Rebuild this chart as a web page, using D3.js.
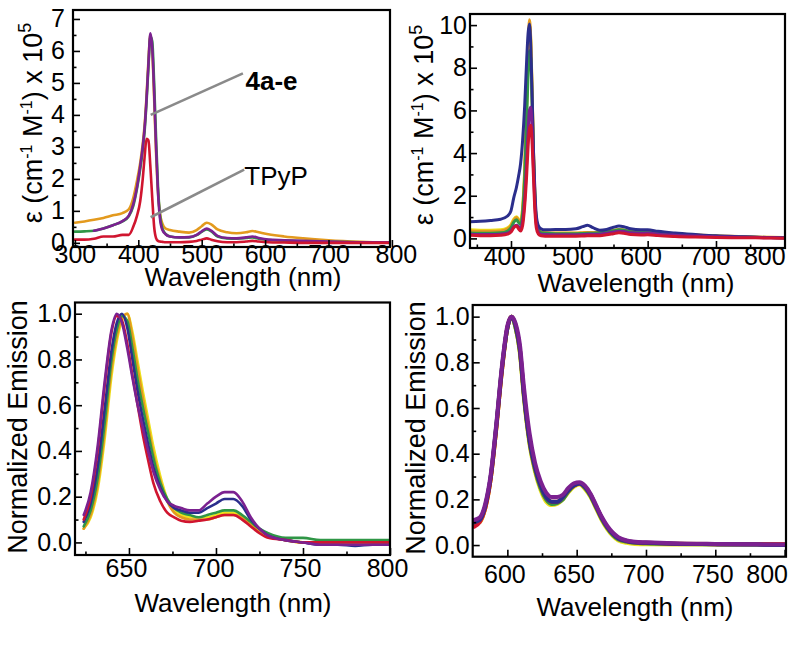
<!DOCTYPE html>
<html><head><meta charset="utf-8">
<script src="https://cdn.jsdelivr.net/npm/d3@7"></script>
<style>body{margin:0;background:#fff} svg{display:block} text{font-family:"Liberation Sans",Arial,sans-serif}</style>
</head><body><svg id="c" width="792" height="652"></svg>
<script>
// ---------- colours of the compounds ----------
const COLORS = {orange:"#E39A1E", yellow:"#EDE21C", green:"#2F9646", blue:"#2B2E8C", purple:"#7B2190", red:"#D0152F"};

// ---------- Panel A: absorption, 4a-e and TPyP ----------
const A_WL = [300,315,330,345,360,375,385,392,398,403,407,410,413,416,419,422,425,428,431,434,438,443,450,465,480,492,500,508,515,525,540,555,570,580,590,605,630,660,700,750,800];
const A_ORANGE = [0.63,0.67,0.72,0.78,0.86,0.93,1.05,1.4,1.95,2.5,3.1,3.7,4.6,5.7,6.5,6.0,4.5,2.8,1.6,0.95,0.6,0.45,0.4,0.35,0.32,0.4,0.52,0.63,0.58,0.42,0.33,0.3,0.33,0.37,0.33,0.27,0.2,0.14,0.08,0.03,0.0];
const A_GREEN = [0.35,0.36,0.38,0.45,0.55,0.67,0.83,1.15,1.7,2.3,2.9,3.5,4.4,5.5,6.45,6.3,5.0,3.3,1.8,0.9,0.45,0.28,0.2,0.17,0.17,0.24,0.34,0.42,0.36,0.2,0.14,0.13,0.15,0.17,0.13,0.09,0.07,0.05,0.03,0.02,0.01];
const A_PURPLE = [null,null,0.38,0.45,0.55,0.68,0.85,1.2,1.75,2.4,3.0,3.6,4.5,5.6,6.55,6.1,4.7,3.0,1.6,0.8,0.4,0.27,0.2,0.17,0.18,0.25,0.36,0.45,0.38,0.22,0.15,0.14,0.17,0.2,0.15,0.1,0.08,0.06,0.04,0.02,0.02];
const A_RED = [0.1,0.1,0.13,0.2,0.2,0.25,0.25,0.5,0.85,1.3,2.0,2.7,3.25,3.2,2.4,1.4,0.5,0.15,0.06,0.04,0.03,0.02,0.02,0.02,0.03,0.06,0.1,0.14,0.1,0.05,0.02,0.02,0.04,0.06,0.04,0.02,0.01,0.0,0.0,0.0,0.0];
const A_XTICKS = [300,400,500,600,700,800];
const A_XMINOR = [350,450,550,650,750];
const A_YTICKS = [0,1,2,3,4,5,6,7];
const A_YMINOR = [0.5,1.5,2.5,3.5,4.5,5.5,6.5];
const A_NOTES = ["4a-e","TPyP"];

// ---------- Panel B: absorption, second set ----------
const B_WL = [340,355,370,385,395,400,404,408,411,414,417,420,423,425,427,429,431,433,435,437,440,444,450,465,480,495,505,512,520,530,540,550,558,565,575,590,600,615,640,670,700,740,780,801];
const B_BLUE = [0.78,0.8,0.84,0.9,1.05,1.3,1.9,2.4,2.9,3.5,4.6,6.2,8.4,9.6,10.05,9.0,6.6,4.0,2.2,1.1,0.6,0.45,0.4,0.42,0.42,0.45,0.55,0.62,0.5,0.38,0.42,0.52,0.58,0.55,0.45,0.4,0.4,0.33,0.25,0.18,0.12,0.08,0.04,0.03];
const B_ORANGE = [0.35,0.33,0.33,0.35,0.45,0.6,0.85,0.98,0.85,0.75,1.4,3.2,6.5,8.8,10.25,9.3,6.8,4.0,2.0,0.9,0.45,0.3,0.28,0.25,0.25,0.25,0.27,0.28,0.28,0.28,0.32,0.38,0.42,0.4,0.33,0.32,0.33,0.28,0.22,0.17,0.12,0.08,0.05,0.04];
const B_YELLOW = [0.4,0.38,0.38,0.4,0.5,0.65,0.9,1.02,0.9,0.8,1.4,3.1,6.3,8.6,10.0,9.2,6.7,3.9,1.9,0.85,0.45,0.3,0.27,0.24,0.24,0.24,0.25,0.26,0.26,0.27,0.3,0.36,0.4,0.38,0.31,0.3,0.31,0.26,0.2,0.15,0.1,0.07,0.04,0.03];
const B_GREEN = [0.25,0.24,0.24,0.26,0.35,0.5,0.75,0.88,0.75,0.65,1.2,2.8,5.7,7.7,8.8,8.4,6.2,3.7,1.9,0.8,0.4,0.27,0.24,0.22,0.22,0.22,0.23,0.24,0.24,0.26,0.3,0.36,0.4,0.38,0.31,0.3,0.3,0.25,0.19,0.14,0.1,0.06,0.04,0.03];
const B_PURPLE = [0.2,0.18,0.18,0.2,0.25,0.35,0.55,0.62,0.55,0.45,0.8,1.8,3.6,5.0,6.0,6.15,5.0,3.2,1.6,0.7,0.3,0.2,0.18,0.17,0.17,0.17,0.18,0.19,0.19,0.2,0.24,0.3,0.34,0.32,0.26,0.24,0.25,0.2,0.15,0.11,0.08,0.05,0.03,0.02];
const B_RED = [0.15,0.13,0.13,0.15,0.2,0.3,0.5,0.58,0.45,0.35,0.6,1.5,3.0,4.3,5.1,5.3,4.4,2.8,1.3,0.5,0.2,0.12,0.1,0.1,0.1,0.1,0.11,0.12,0.12,0.13,0.17,0.22,0.26,0.24,0.18,0.16,0.17,0.13,0.09,0.06,0.04,0.03,0.02,0.01];
const B_XTICKS = [400,500,600,700,800];
const B_XMINOR = [350,450,550,650,750];
const B_YTICKS = [0,2,4,6,8,10];
const B_YMINOR = [1,3,5,7,9];

// ---------- Panel C: normalized emission, first set ----------
const C_WL = [624,628,632,636,640,643,646,649,652,655,658,661,664,668,672,676,680,685,690,695,700,705,710,715,720,725,730,740,750,760,770,780,790,800];
const C_PURPLE = [0.12,0.22,0.42,0.7,0.93,1.0,0.96,0.85,0.72,0.6,0.5,0.4,0.31,0.23,0.18,0.16,0.15,0.14,0.14,0.17,0.2,0.22,0.22,0.18,0.11,0.06,0.03,0.01,0.0,-0.01,-0.01,-0.01,-0.01,-0.01];
const C_RED = [0.1,0.2,0.4,0.68,0.92,0.99,0.97,0.87,0.73,0.6,0.47,0.36,0.26,0.18,0.13,0.11,0.095,0.09,0.095,0.1,0.11,0.12,0.12,0.1,0.07,0.04,0.02,0.01,0.0,0.0,0.0,0.0,0.0,0.0];
const C_BLUE = [0.09,0.17,0.33,0.58,0.84,0.96,1.0,0.94,0.8,0.66,0.54,0.43,0.33,0.24,0.18,0.15,0.14,0.13,0.13,0.15,0.17,0.19,0.19,0.16,0.1,0.06,0.03,0.01,0.0,-0.01,-0.01,-0.015,-0.01,-0.01];
const C_GREEN = [0.07,0.14,0.28,0.52,0.8,0.93,0.99,0.97,0.85,0.71,0.59,0.48,0.37,0.26,0.19,0.15,0.13,0.12,0.11,0.12,0.13,0.14,0.14,0.12,0.09,0.06,0.04,0.02,0.02,0.01,0.01,0.01,0.01,0.01];
const C_ORANGE = [0.06,0.12,0.25,0.48,0.76,0.9,0.98,1.0,0.9,0.76,0.63,0.51,0.39,0.27,0.18,0.13,0.11,0.1,0.1,0.1,0.11,0.12,0.12,0.11,0.08,0.05,0.03,0.01,0.0,0.0,0.0,0.0,0.0,0.0];
const C_YELLOW = [0.06,0.11,0.23,0.45,0.73,0.88,0.97,1.0,0.92,0.79,0.66,0.54,0.42,0.29,0.19,0.14,0.12,0.11,0.11,0.11,0.12,0.13,0.13,0.11,0.08,0.05,0.03,0.01,0.0,0.0,0.0,0.0,0.0,0.0];
const C_XTICKS = [650,700,750,800];
const C_XMINOR = [625,675,725,775];
const C_YTICKS = [0,0.2,0.4,0.6,0.8,1.0];
const C_YMINOR = [0.1,0.3,0.5,0.7,0.9];

// ---------- Panel D: normalized emission, second set ----------
const D_WL = [576,580,584,588,592,596,600,603,606,609,612,616,620,624,628,632,636,640,644,648,652,656,660,664,668,672,676,680,686,692,700,720,750,780,801];
const D_YELLOW = [0.09,0.1,0.16,0.29,0.51,0.76,0.95,1.0,0.95,0.84,0.64,0.44,0.32,0.24,0.19,0.175,0.18,0.2,0.23,0.255,0.265,0.245,0.21,0.16,0.11,0.07,0.04,0.02,0.01,0.005,0.003,0.002,0.002,0.002,0.002];
const D_ORANGE = [0.09,0.1,0.16,0.29,0.51,0.76,0.95,1.0,0.95,0.85,0.65,0.45,0.33,0.25,0.2,0.18,0.185,0.2,0.235,0.26,0.27,0.25,0.215,0.165,0.115,0.075,0.045,0.025,0.015,0.01,0.008,0.006,0.005,0.005,0.005];
const D_GREEN = [0.09,0.11,0.17,0.3,0.52,0.77,0.95,1.0,0.95,0.85,0.65,0.45,0.33,0.25,0.2,0.18,0.185,0.2,0.235,0.26,0.27,0.25,0.215,0.165,0.115,0.075,0.045,0.025,0.015,0.01,0.008,0.005,0.003,0.002,0.0];
const D_RED = [0.08,0.1,0.16,0.29,0.51,0.76,0.95,1.0,0.96,0.86,0.66,0.46,0.34,0.26,0.21,0.19,0.19,0.21,0.24,0.26,0.27,0.255,0.22,0.17,0.12,0.08,0.05,0.03,0.018,0.012,0.01,0.006,0.004,0.003,0.003];
const D_BLUE = [0.1,0.11,0.17,0.3,0.52,0.77,0.95,1.0,0.96,0.86,0.66,0.46,0.34,0.26,0.21,0.19,0.19,0.21,0.24,0.26,0.27,0.255,0.22,0.17,0.12,0.08,0.05,0.03,0.018,0.012,0.01,0.006,0.004,0.002,0.0];
const D_PURPLE = [0.11,0.12,0.18,0.31,0.53,0.78,0.96,1.0,0.97,0.88,0.69,0.49,0.36,0.28,0.23,0.21,0.21,0.22,0.25,0.27,0.275,0.26,0.225,0.175,0.125,0.085,0.055,0.035,0.02,0.014,0.012,0.008,0.005,0.003,0.002];
const D_XTICKS = [600,650,700,750,800];
const D_XMINOR = [625,675,725,775];
const D_YTICKS = [0,0.2,0.4,0.6,0.8,1.0];
const D_YMINOR = [0.1,0.3,0.5,0.7,0.9];

const X_TITLE = "Wavelength (nm)";
const Y_TITLE_EMI = "Normalized Emission";

// ---------- layout ----------
const panels = [
  {wl:A_WL, series:[["orange",A_ORANGE],["green",A_GREEN],["purple",A_PURPLE],["red",A_RED]],
   xd:[297,797], yd:[-0.13,7.28], left:73, right:390, top:10, bottom:247, lw:2.6,
   xt:A_XTICKS, xm:A_XMINOR, yt:A_YTICKS, ym:A_YMINOR, yfmt:d3.format("d"),
   xPad:-1.5, xDx:0, xLastDx:4, yPad:8, xTitle:[243,286], yTitle:[42,123], yKind:"eps"},
  {wl:B_WL, series:[["yellow",B_YELLOW],["orange",B_ORANGE],["green",B_GREEN],["blue",B_BLUE],["purple",B_PURPLE],["red",B_RED]],
   xd:[340,801], yd:[-0.45,10.52], left:470, right:785, top:14, bottom:248, lw:3,
   xt:B_XTICKS, xm:B_XMINOR, yt:B_YTICKS, ym:B_YMINOR, yfmt:d3.format("d"),
   xPad:-0.5, xDx:-7, xLastDx:-20, yPad:3, xTitle:[636,292], yTitle:[433,125], yKind:"eps"},
  {wl:C_WL, series:[["yellow",C_YELLOW],["orange",C_ORANGE],["green",C_GREEN],["blue",C_BLUE],["red",C_RED],["purple",C_PURPLE]],
   xd:[619,800], yd:[-0.055,1.049], left:75, right:390, top:302.5, bottom:555, lw:2.6,
   xt:C_XTICKS, xm:C_XMINOR, yt:C_YTICKS, ym:C_YMINOR, yfmt:d3.format(".1f"),
   xPad:4, xDx:-3, xLastDx:-3, yPad:3, xTitle:[233,612], yTitle:[27,427], yKind:"emi"},
  {wl:D_WL, series:[["yellow",D_YELLOW],["orange",D_ORANGE],["green",D_GREEN],["red",D_RED],["blue",D_BLUE],["purple",D_PURPLE]],
   xd:[575,801], yd:[-0.051,1.051], left:472.7, right:786, top:305, bottom:556.7, lw:4,
   xt:D_XTICKS, xm:D_XMINOR, yt:D_YTICKS, ym:D_YMINOR, yfmt:d3.format(".1f"),
   xPad:8.5, xDx:-3, xLastDx:-18, yPad:3, xTitle:[635,616], yTitle:[425,428], yKind:"emi"}
];

const TICK_FONT = 25;
const svg = d3.select("#c");
svg.append("rect").attr("width",792).attr("height",652).attr("fill","#fff");
const defs = svg.append("defs");

panels.forEach((p,i) => {
  const x = d3.scaleLinear().domain(p.xd).range([p.left,p.right]);
  const y = d3.scaleLinear().domain(p.yd).range([p.bottom,p.top]);
  defs.append("clipPath").attr("id","clip"+i).append("rect")
    .attr("x",p.left).attr("y",p.top).attr("width",p.right-p.left).attr("height",p.bottom-p.top);
  const g = svg.append("g");
  const lg = g.append("g").attr("clip-path",`url(#clip${i})`);
  const line = d3.line().defined(d=>d[1]!=null).x(d=>x(d[0])).y(d=>y(d[1])).curve(d3.curveMonotoneX);
  p.series.forEach(([c,vals]) => {
    lg.append("path").attr("d", line(p.wl.map((w,k)=>[w,vals[k]])))
      .attr("fill","none").attr("stroke",COLORS[c]).attr("stroke-width",p.lw)
      .attr("stroke-linejoin","round").attr("stroke-linecap","round");
  });

  // minor ticks
  const gxm = g.append("g").attr("transform",`translate(0,${p.bottom})`)
    .call(d3.axisBottom(x).tickValues(p.xm).tickSizeInner(-3.5).tickSizeOuter(0).tickFormat(""));
  const gym = g.append("g").attr("transform",`translate(${p.left},0)`)
    .call(d3.axisLeft(y).tickValues(p.ym).tickSizeInner(-3.5).tickSizeOuter(0).tickFormat(""));
  // major ticks
  const gx = g.append("g").attr("transform",`translate(0,${p.bottom})`)
    .call(d3.axisBottom(x).tickValues(p.xt).tickSizeInner(-7).tickSizeOuter(0).tickPadding(p.xPad).tickFormat(d3.format("d")));
  const gy = g.append("g").attr("transform",`translate(${p.left},0)`)
    .call(d3.axisLeft(y).tickValues(p.yt).tickSizeInner(-7).tickSizeOuter(0).tickPadding(p.yPad).tickFormat(p.yfmt));
  [gxm,gym,gx,gy].forEach(a => {
    a.select(".domain").remove();
    a.selectAll(".tick line").attr("stroke","#000").attr("stroke-width",1.6);
  });
  gx.selectAll("text").attr("font-size",TICK_FONT).attr("fill","#000").attr("font-family",'"Liberation Sans",Arial,sans-serif')
    .attr("dx",(d,k)=> k===p.xt.length-1 ? p.xLastDx : p.xDx);
  gy.selectAll("text").attr("font-size",TICK_FONT).attr("fill","#000").attr("font-family",'"Liberation Sans",Arial,sans-serif');

  // frame
  g.append("rect").attr("x",p.left).attr("y",p.top).attr("width",p.right-p.left).attr("height",p.bottom-p.top)
    .attr("fill","none").attr("stroke","#000").attr("stroke-width",2.2);

  // x title
  g.append("text").attr("x",p.xTitle[0]).attr("y",p.xTitle[1]).attr("text-anchor","middle")
    .attr("font-size",26).attr("fill","#000").text(X_TITLE);
  // y title
  const yt = g.append("text").attr("transform",`translate(${p.yTitle[0]},${p.yTitle[1]}) rotate(-90)`)
    .attr("text-anchor","middle").attr("font-size",p.yKind==="eps"?27:27).attr("fill","#000");
  if (p.yKind === "eps") {
    yt.append("tspan").text("\u03B5 (cm");
    yt.append("tspan").attr("font-size",16).attr("dy",-10).text("-1");
    yt.append("tspan").attr("dy",10).text(" M");
    yt.append("tspan").attr("font-size",16).attr("dy",-10).text("-1");
    yt.append("tspan").attr("dy",10).text(") x 10");
    yt.append("tspan").attr("font-size",18).attr("dy",-11).text("5");
  } else {
    yt.text(Y_TITLE_EMI);
  }

  if (i === 0) {
    // annotation leader lines and labels
    const ann = [
      {from:[419.5,4.0], to:[565,5.3], text:A_NOTES[0], bold:true, tx:[566,5.05]},
      {from:[419.5,0.8], to:[567,2.29], text:A_NOTES[1], bold:false, tx:[564,2.1]}
    ];
    ann.forEach(a => {
      g.append("line").attr("x1",x(a.from[0])).attr("y1",y(a.from[1])).attr("x2",x(a.to[0])).attr("y2",y(a.to[1]))
        .attr("stroke","#8a8a8a").attr("stroke-width",2.6);
      g.append("text").attr("x",x(a.tx[0])+2).attr("y",y(a.tx[1])+9).attr("font-size",26)
        .attr("font-weight",a.bold?"bold":"normal").attr("fill","#000").text(a.text);
    });
  }
});
</script></body></html>
